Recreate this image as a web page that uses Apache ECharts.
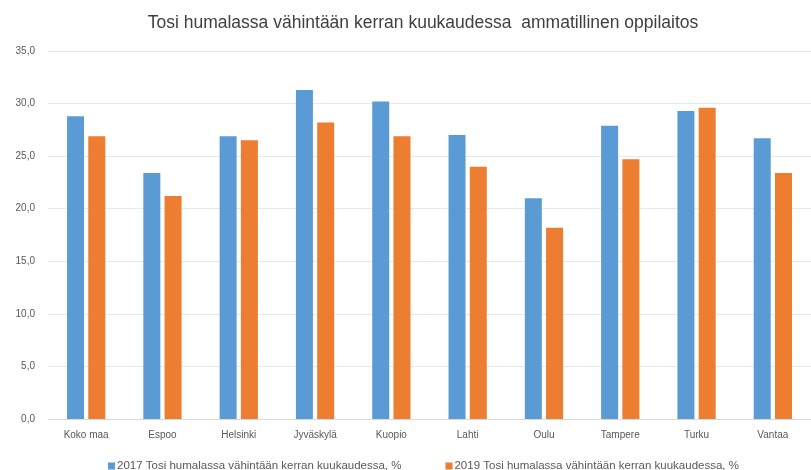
<!DOCTYPE html>
<html>
<head>
<meta charset="utf-8">
<script src="https://cdn.jsdelivr.net/npm/echarts@6/dist/echarts.min.js"></script>
<style>
  html, body { margin: 0; padding: 0; background: #fff; }
  #chart { width: 811px; height: 470px; }
</style>
</head>
<body>
<div id="chart"></div>
<script>
  // data
  const cities = ['Koko maa', 'Espoo', 'Helsinki', 'Jyväskylä', 'Kuopio', 'Lahti', 'Oulu', 'Tampere', 'Turku', 'Vantaa'];
  const values2017 = [28.8, 23.4, 26.9, 31.3, 30.2, 27.0, 21.0, 27.9, 29.3, 26.7];
  const values2019 = [26.9, 21.2, 26.5, 28.2, 26.9, 24.0, 18.2, 24.7, 29.6, 23.4];
  const name2017 = '2017 Tosi humalassa vähintään kerran kuukaudessa, %';
  const name2019 = '2019 Tosi humalassa vähintään kerran kuukaudessa, %';

  const font = 'Liberation Sans, Arial, sans-serif';
  const chart = echarts.init(document.getElementById('chart'));
  chart.setOption({
    animation: false,
    title: {
      text: 'Tosi humalassa vähintään kerran kuukaudessa  ammatillinen oppilaitos',
      left: 418,
      textAlign: 'center',
      top: 9,
      textStyle: { fontFamily: font, fontSize: 17.5, fontWeight: 'normal', color: '#404040' }
    },
    legend: {
      top: 455,
      left: 103,
      itemWidth: 7,
      itemHeight: 7,
      itemGap: 44,
      icon: 'rect',
      textStyle: { fontFamily: font, fontSize: 11.5, color: '#595959', padding: [0, 0, 0, -3] },
      data: [name2017, name2019]
    },
    grid: { left: 48, top: 51, width: 776, height: 368, containLabel: false },
    xAxis: {
      type: 'category',
      data: cities,
      axisLine: { lineStyle: { color: '#d9d9d9' } },
      axisTick: { show: false },
      axisLabel: { fontFamily: font, fontSize: 10, color: '#595959', margin: 11 }
    },
    yAxis: {
      type: 'value',
      min: 0,
      max: 35,
      interval: 5,
      axisLine: { show: false },
      axisTick: { show: false },
      splitLine: { lineStyle: { color: '#e8e8e8' } },
      axisLabel: {
        fontFamily: font, fontSize: 10, color: '#595959', margin: 13,
        formatter: v => v.toFixed(1).replace('.', ',')
      }
    },
    series: [
      {
        name: name2017,
        type: 'bar',
        data: values2017,
        barWidth: 17,
        barGap: '25%',
        itemStyle: { color: '#5b9bd5' }
      },
      {
        name: name2019,
        type: 'bar',
        data: values2019,
        barWidth: 17,
        itemStyle: { color: '#ed7d31' }
      }
    ]
  });
</script>
</body>
</html>
